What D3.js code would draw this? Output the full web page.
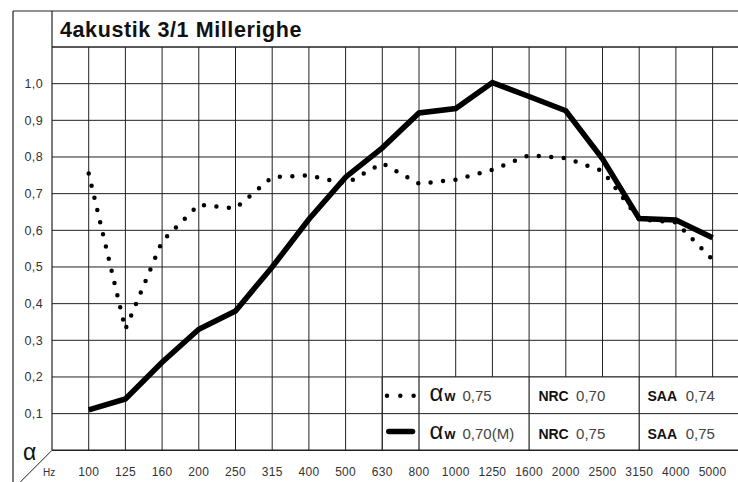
<!DOCTYPE html>
<html>
<head>
<meta charset="utf-8">
<script src="https://cdn.jsdelivr.net/npm/d3@7"></script>
<style>
  html, body { margin: 0; padding: 0; background: #fff; }
  svg { display: block; font-family: "Liberation Sans", Arial, sans-serif; }
</style>
</head>
<body>
<div id="vizContainer"></div>
<script>
// chart values
var frequencies = ['100', '125', '160', '200', '250', '315', '400', '500', '630',
    '800', '1000', '1250', '1600', '2000', '2500', '3150', '4000', '5000'];
var alphaDotted = [0.755, 0.33, 0.57, 0.67, 0.66, 0.745, 0.75, 0.727, 0.783,
    0.727, 0.738, 0.765, 0.805, 0.797, 0.762, 0.63, 0.622, 0.52];
var alphaSolid = [0.11, 0.14, 0.24, 0.33, 0.38, 0.50, 0.63, 0.745, 0.825,
    0.92, 0.932, 1.003, 0.965, 0.926, 0.795, 0.632, 0.628, 0.58];
var yTicks = [0.1, 0.2, 0.3, 0.4, 0.5, 0.6, 0.7, 0.8, 0.9, 1.0];
var legendAlphaW = ['0,75', '0,70(M)'];
var legendNRC = ['0,70', '0,75'];
var legendSAA = ['0,74', '0,75'];
var title = '4akustik 3/1 Millerighe';

var width = 738, height = 482;
var frameLeft = 13, frameTop = 11;
var plotLeft = 52, plotTop = 47, plotBottom = 450.3;
var step = 36.7;

// set up the svg
var svg = d3.select('#vizContainer').append('svg')
    .attr('width', width)
    .attr('height', height)
    .attr('viewBox', '0 0 ' + width + ' ' + height);

var x = d3.scalePoint()
    .domain(frequencies)
    .range([plotLeft + step, plotLeft + step * frequencies.length]);

var y = d3.scaleLinear()
    .domain([0, 1.1])
    .range([plotBottom, plotTop]);

var plotRight = plotLeft + step * (frequencies.length + 1);
var ink = '#222';

// outer frame and title band
svg.append('line').attr('x1', frameLeft).attr('y1', frameTop)
    .attr('x2', width + 5).attr('y2', frameTop)
    .attr('stroke', ink).attr('stroke-width', 1.2);
svg.append('line').attr('x1', frameLeft).attr('y1', frameTop)
    .attr('x2', frameLeft).attr('y2', height + 5)
    .attr('stroke', ink).attr('stroke-width', 1.2);
svg.append('line').attr('x1', plotLeft).attr('y1', frameTop)
    .attr('x2', plotLeft).attr('y2', plotBottom)
    .attr('stroke', ink).attr('stroke-width', 1.2);

svg.append('text')
    .attr('x', 60).attr('y', 37)
    .attr('font-size', 21.5).attr('font-weight', 'bold')
    .attr('letter-spacing', 0.6)
    .attr('fill', '#111')
    .text(title);

// grid: horizontal lines
var gridY = d3.range(0, 12).map(function(d){ return d / 10; });
svg.append('g').selectAll('line').data(gridY).join('line')
    .attr('x1', plotLeft).attr('x2', plotRight)
    .attr('y1', function(d){ return y(d); })
    .attr('y2', function(d){ return y(d); })
    .attr('stroke', ink).attr('stroke-width', function(d, i){ return (i === 0 || i === 11) ? 1.4 : 1; });

// grid: vertical lines
svg.append('g').selectAll('line').data(frequencies).join('line')
    .attr('x1', function(d){ return x(d); }).attr('x2', function(d){ return x(d); })
    .attr('y1', plotTop).attr('y2', plotBottom)
    .attr('stroke', ink).attr('stroke-width', 1);

// diagonal at the origin
svg.append('line').attr('x1', plotLeft).attr('y1', plotBottom)
    .attr('x2', plotLeft - 33).attr('y2', plotBottom + 33)
    .attr('stroke', ink).attr('stroke-width', 1);

// y tick labels
svg.append('g').selectAll('text').data(yTicks).join('text')
    .attr('x', 43).attr('y', function(d){ return y(d) + 4.5; })
    .attr('text-anchor', 'end')
    .attr('font-size', 12.5).attr('letter-spacing', 0.4)
    .attr('fill', '#333')
    .text(function(d){ return d3.format('.1f')(d).replace('.', ','); });

// x tick labels
svg.append('g').selectAll('text').data(frequencies).join('text')
    .attr('x', function(d){ return x(d); }).attr('y', 475.5)
    .attr('text-anchor', 'middle')
    .attr('font-size', 12).attr('letter-spacing', 0.3)
    .attr('fill', '#333')
    .text(function(d){ return d; });

svg.append('text').attr('x', 43).attr('y', 475.5)
    .attr('font-size', 10).attr('fill', '#333').text('Hz');
svg.append('text').attr('x', 23).attr('y', 460)
    .attr('font-size', 23).attr('fill', '#111').text('α');

// the two curves
var lineFor = function(values){
    return d3.line()
        .x(function(d, i){ return x(frequencies[i]); })
        .y(function(d){ return y(d); })(values);
};

svg.append('path')
    .attr('d', lineFor(alphaDotted))
    .attr('fill', 'none').attr('stroke', '#000')
    .attr('stroke-width', 4.5)
    .attr('stroke-linecap', 'round')
    .attr('stroke-dasharray', '0,12.5');

svg.append('path')
    .attr('d', lineFor(alphaSolid))
    .attr('fill', 'none').attr('stroke', '#000')
    .attr('stroke-width', 5.5)
    .attr('stroke-linejoin', 'miter');

// legend table, laid over the grid
var legTop = y(0.2), legMid = y(0.1), legBottom = y(0);
var colA = x('630'), colB = x('800'), colC = x('1600'), colD = x('3150');
var legend = svg.append('g');

legend.append('rect')
    .attr('x', colA).attr('y', legTop)
    .attr('width', plotRight - colA).attr('height', legBottom - legTop)
    .attr('fill', '#fff');
[legTop, legMid, legBottom].forEach(function(yy){
    legend.append('line').attr('x1', colA).attr('x2', plotRight)
        .attr('y1', yy).attr('y2', yy)
        .attr('stroke', ink).attr('stroke-width', yy === legBottom ? 1.4 : 1);
});
[colA, colB, colC, colD].forEach(function(xx){
    legend.append('line').attr('x1', xx).attr('x2', xx)
        .attr('y1', legTop).attr('y2', legBottom)
        .attr('stroke', ink).attr('stroke-width', 1.2);
});

// legend samples
var rowMid = [(legTop + legMid) / 2, (legMid + legBottom) / 2];
legend.append('path')
    .attr('d', 'M' + (colA + 4.7) + ',' + (rowMid[0] + 0.5) + 'H' + (colB - 5))
    .attr('stroke', '#000').attr('stroke-width', 4.5)
    .attr('stroke-linecap', 'round').attr('stroke-dasharray', '0,13.3');
legend.append('path')
    .attr('d', 'M' + (colA + 6.5) + ',' + (rowMid[1] - 0.5) + 'H' + (colB - 6.5))
    .attr('stroke', '#000').attr('stroke-width', 5.5)
    .attr('stroke-linecap', 'round');

// legend texts
var rowBase = [legMid - 12.5, legBottom - 11];
rowBase.forEach(function(base, i){
    legend.append('text').attr('x', colB + 10.5).attr('y', base)
        .attr('font-size', 24).attr('fill', '#111').text('α');
    legend.append('text').attr('x', colB + 25.5).attr('y', base)
        .attr('font-size', 14).attr('font-weight', 'bold').attr('fill', '#111').text('w');
    legend.append('text').attr('x', colB + 43.5).attr('y', base)
        .attr('font-size', 15).attr('fill', '#444').text(legendAlphaW[i]);

    legend.append('text').attr('x', colC + 9.3).attr('y', base)
        .attr('font-size', 14).attr('font-weight', 'bold').attr('fill', '#111').text('NRC');
    legend.append('text').attr('x', colC + 47).attr('y', base)
        .attr('font-size', 15).attr('fill', '#444').text(legendNRC[i]);

    legend.append('text').attr('x', colD + 8.3).attr('y', base)
        .attr('font-size', 14).attr('font-weight', 'bold').attr('fill', '#111').text('SAA');
    legend.append('text').attr('x', colD + 46.5).attr('y', base)
        .attr('font-size', 15).attr('fill', '#444').text(legendSAA[i]);
});
</script>
</body>
</html>
